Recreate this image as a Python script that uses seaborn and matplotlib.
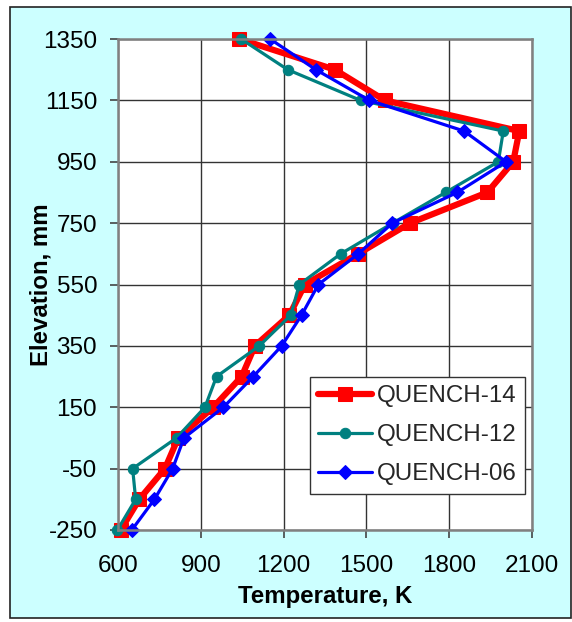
import matplotlib
matplotlib.use("Agg")
import matplotlib.pyplot as plt
import matplotlib.patches as mpatches
import seaborn as sns
import pandas as pd

elevation = [1350, 1250, 1150, 1050, 950, 850, 750, 650, 550, 450, 350, 250, 150, 50, -50, -150, -250]
q14 = [1040, 1386, 1567, 2054, 2032, 1938, 1658, 1470, 1277, 1221, 1096, 1048, 945, 818, 770, 677, 610]
q12 = [1046, 1215, 1479, 1996, 1978, 1787, 1595, 1407, 1257, 1226, 1112, 957, 915, 812, 653, 664, 598]
q06 = [1151, 1317, 1511, 1854, 2006, 1829, 1594, 1471, 1326, 1265, 1193, 1090, 982, 839, 798, 732, 650]
series_names = ["QUENCH-14", "QUENCH-12", "QUENCH-06"]
x_ticks = [600, 900, 1200, 1500, 1800, 2100]
y_ticks = [-250, -50, 150, 350, 550, 750, 950, 1150, 1350]

sns.set_theme(style="white")
plt.rcParams['font.family'] = ['Liberation Sans', 'DejaVu Sans']
plt.rcParams['axes.unicode_minus'] = False

fig = plt.figure(figsize=(5.72, 6.22), dpi=100, facecolor="white")
fig.patches.append(mpatches.Rectangle((10/572, 1-618/622), 561/572, 611/622,
                                      transform=fig.transFigure, facecolor="#CCFFFF",
                                      edgecolor="#222222", linewidth=1.2, zorder=-10))
ax = fig.add_axes([118/572, 1-530/622, 414/572, 491/622])
ax.set_facecolor("white")

styles = [
    dict(color="#FF0000", linewidth=4.5, marker="s", markersize=10),
    dict(color="#008080", linewidth=2.3, marker="o", markersize=7.5),
    dict(color="#0000FF", linewidth=2.3, marker="D", markersize=7),
]
for name, vals, st in zip(series_names, [q14, q12, q06], styles):
    df = pd.DataFrame({"Temperature": vals, "Elevation": elevation})
    sns.lineplot(data=df, x="Temperature", y="Elevation", sort=False, estimator=None,
                 ax=ax, label=name, markeredgecolor=st["color"], clip_on=False, **st)

ax.set_xlim(600, 2100)
ax.set_ylim(-250, 1350)
ax.set_xticks(x_ticks)
ax.set_yticks(y_ticks)
ax.grid(True, color="#333333", linewidth=1.0)
for s in ax.spines.values():
    s.set_color("#808080")
    s.set_linewidth(1.8)
ax.tick_params(axis="both", which="major", direction="out", length=6, width=1.2,
               color="#444444", labelsize=17.5, labelcolor="black")
ax.tick_params(axis="x", pad=12)
ax.tick_params(axis="y", pad=9)
ax.tick_params(left=True, bottom=True)

ax.set_xlabel("Temperature, K", fontsize=17.3, fontweight="bold", color="black")
ax.set_ylabel("Elevation, mm", fontsize=17.3, fontweight="bold", color="black")
ax.xaxis.label.set_va("center")
ax.yaxis.label.set_va("center")
ax.xaxis.set_label_coords((325-118)/414, (530-596)/491)
ax.yaxis.set_label_coords((41-118)/414, 0.5)

leg = ax.legend(loc="upper left", bbox_to_anchor=((310-118)/414, (530-377)/491),
                borderaxespad=0, fontsize=17.4, frameon=True, fancybox=False,
                edgecolor="#333333", facecolor="white", framealpha=1,
                handlelength=2.2, labelspacing=0.7, borderpad=0.35, handletextpad=0.2)
leg.get_frame().set_linewidth(1.0)

fig.savefig("out.png", dpi=100, facecolor=fig.get_facecolor())
